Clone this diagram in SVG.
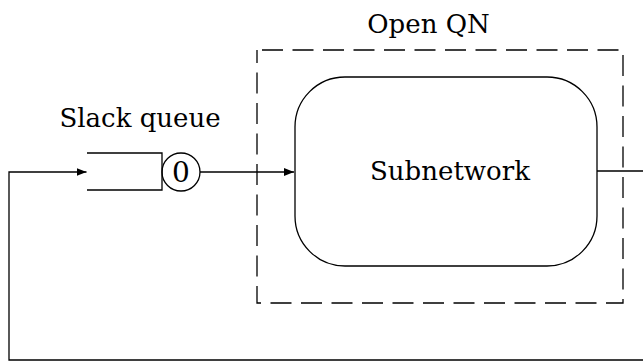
<svg xmlns="http://www.w3.org/2000/svg" width="643" height="362" viewBox="0 0 643 362">
<style>
  .ln{fill:none;stroke:#000;stroke-width:1.3}
  .tx{font-family:"DejaVu Serif",serif;font-size:26px;fill:#000;text-anchor:middle}
</style>
<defs>
  <marker id="arr" viewBox="0 0 10 8" refX="10" refY="4" markerWidth="10" markerHeight="8" markerUnits="userSpaceOnUse" orient="auto">
    <path d="M0,0 L10,4 L0,8 Z" fill="#000"/>
  </marker>
</defs>
<rect width="643" height="362" fill="#fff"/>
<g id="openqn">
  <rect class="ln" x="257" y="50" width="366" height="253" stroke-dasharray="21 9.5" stroke-dashoffset="-5"/>
  <text class="tx" x="428.5" y="33">Open QN</text>
</g>
<g id="subnetwork">
  <rect class="ln" x="295" y="77" width="302" height="189" rx="50" ry="50"/>
  <text class="tx" x="450" y="180">Subnetwork</text>
</g>
<g id="slackqueue">
  <path class="ln" d="M87,153 H162 V190 H87"/>
  <circle class="ln" cx="181" cy="172" r="19"/>
  <text class="tx" x="181" y="182" style="font-size:28px">0</text>
  <text class="tx" x="140" y="127">Slack queue</text>
</g>
<g id="connectors">
  <path class="ln" d="M200,172 H294" marker-end="url(#arr)"/>
  <path class="ln" d="M597,171 H650 V360 H9 V172 H86.5" marker-end="url(#arr)"/>
</g>
</svg>
